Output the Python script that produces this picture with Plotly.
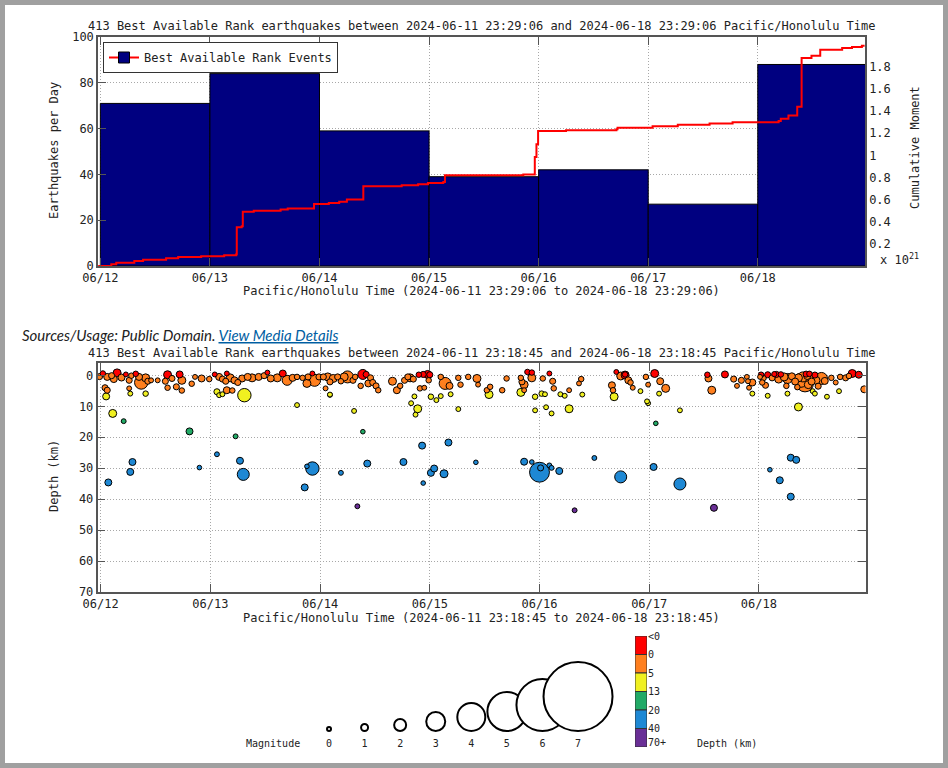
import numpy as np
import pandas as pd
import plotly.graph_objects as go

W, H = 948, 768

# ---- top panel: events per day + cumulative moment ----
BAR_DAYS = ["2024-06-12", "2024-06-13", "2024-06-14", "2024-06-15",
            "2024-06-16", "2024-06-17", "2024-06-18"]
BAR_COUNTS = [71, 84, 59, 39, 42, 27, 88]

# times as fractional day of June, moment in units of 10^21
MOMENT_DAY = [11.98, 12.10, 12.145, 12.31, 12.39, 12.60, 12.71, 12.92, 13.13, 13.24,
              13.245, 13.29, 13.30, 13.40, 13.645, 13.71, 13.95, 14.085, 14.18, 14.25,
              14.40, 14.75, 14.90, 14.99, 15.13, 15.145, 15.86, 15.965, 15.98, 15.995,
              16.25, 16.71, 16.72, 17.04, 17.27, 17.56, 17.77, 18.19, 18.21, 18.28,
              18.36, 18.40, 18.49, 18.57, 18.77, 18.86, 18.95, 18.975]
MOMENT_E21 = [0.0, 0.015, 0.03, 0.045, 0.057, 0.07, 0.082, 0.088, 0.097, 0.106,
              0.35, 0.36, 0.49, 0.50, 0.51, 0.52, 0.56, 0.57, 0.58, 0.60,
              0.72, 0.73, 0.74, 0.75, 0.76, 0.82, 0.827, 0.985, 1.10, 1.22,
              1.227, 1.235, 1.25, 1.264, 1.276, 1.288, 1.30, 1.31, 1.33, 1.36,
              1.44, 1.88, 1.90, 1.955, 1.97, 1.98, 1.99, 1.99]

# ---- bottom panel: individual events (day of June, depth km, magnitude) ----
EQ_DAY = [
    11.99, 12.02, 12.06, 12.10, 12.15, 12.12, 12.19, 12.23, 12.26, 12.28,
    12.32, 12.35, 12.37, 12.41, 12.43, 12.46, 12.52, 12.61, 12.59, 12.65,
    12.72, 12.74, 12.69, 12.61, 12.74, 12.83, 12.86, 12.92, 12.99, 13.04,
    13.08, 13.11, 13.15, 13.14, 13.18, 13.22, 13.25, 13.29, 13.34, 13.38,
    13.44, 13.49, 13.52, 13.55, 13.61, 13.66, 13.70, 13.75, 12.04, 12.06,
    12.05, 12.26, 12.27, 12.41, 13.06, 13.08, 13.11, 13.15, 13.20, 13.31,
    12.11, 12.21, 12.81,
    12.07, 12.29, 12.27, 12.90, 13.06, 13.23, 13.27, 13.30, 13.79, 13.86,
    13.88, 13.93, 14.19, 14.31, 14.34, 14.39, 14.43, 14.76, 14.93, 14.94,
    15.01, 15.04, 15.13, 15.17, 15.42, 14.89, 14.87, 14.83, 14.86, 15.26,
    14.09,
    15.86, 15.93, 16.00, 16.01, 16.09, 16.11, 16.18, 16.32, 16.50, 16.74,
    17.04, 17.06, 17.28, 17.28, 17.59, 18.10, 18.19, 18.29, 18.34, 18.29,
    18.36, 16.99, 16.98, 15.96, 16.06, 16.11, 16.27,
    13.79, 13.84, 13.88, 13.89, 13.93, 13.95, 13.99, 14.03, 14.07, 14.09,
    14.12, 14.16, 14.19, 14.22, 14.25, 14.30, 14.32, 14.39, 14.42, 14.46,
    14.44, 14.37, 14.48, 14.51, 14.53, 14.66, 14.73, 14.70, 14.77, 14.80,
    14.82, 14.85, 14.90, 14.94, 14.98, 15.00, 14.99, 14.91, 14.95, 15.10,
    15.14, 15.18, 15.26, 15.28, 15.35, 15.43, 15.44, 15.52, 15.54, 14.09,
    14.05, 15.01, 15.06, 15.10, 15.19,
    15.55, 15.66, 15.70, 15.83, 15.84, 15.86, 15.89, 15.93, 15.93, 15.83,
    15.86, 15.96, 16.03, 16.09, 16.12, 16.13, 16.02, 16.05, 16.19, 16.23,
    16.27, 16.36, 16.38, 16.39, 16.66, 16.67, 16.68, 16.70, 16.74, 16.78,
    16.78, 16.81, 16.83, 16.85, 16.92, 16.97, 16.99, 17.05, 17.10, 17.15,
    17.09,
    17.53, 17.54, 17.57, 17.69, 17.77, 17.80, 17.84, 17.89, 17.90, 17.94,
    17.91, 17.94, 18.01, 18.03, 18.02, 18.04, 18.06, 18.08, 18.12, 18.16,
    18.18, 18.23, 18.26, 18.38, 18.42, 18.47, 18.51, 18.52, 18.57, 18.25,
    18.26, 18.49, 18.51, 18.08, 18.62, 18.66, 18.70, 18.73, 18.74, 18.79,
    18.82, 18.85, 18.91, 18.96, 18.30, 18.33, 18.36, 18.40, 18.45, 18.48,
    18.54, 18.44, 18.60, 18.35, 18.43, 18.46, 18.20, 18.14,
]
EQ_DEPTH = [
    0.4, -0.6, 0.5, 0.1, -0.8, 1.2, 0.7, -0.3, 1.6, 0.1,
    -0.5, 0.5, 2.3, 0.8, 1.9, 1.6, 1.6, -0.2, 1.9, 1.0,
    -0.3, 1.6, 3.7, 4.0, 4.9, 2.7, 0.5, 1.0, 1.2, -0.3,
    0.5, 1.2, -0.6, 1.9, 0.8, 1.6, 2.3, 1.0, 0.5, 0.8,
    0.5, 0.1, -0.9, 1.0, 0.8, -0.6, 1.6, 0.8, 4.0, 4.8,
    6.8, 4.2, 5.9, 5.9, 5.3, 6.4, 6.1, 4.8, 4.9, 6.4,
    12.3, 14.8, 18.1,
    34.6, 28.0, 31.2, 29.8, 25.5, 19.7, 27.6, 32.0, 9.6, 36.2,
    29.4, 30.1, 31.5, 11.5, 42.3, 18.2, 28.5, 28.0, 22.7, 34.8,
    31.5, 30.1, 31.8, 21.7, 28.1, 10.8, 12.7, 9.0, 6.8, 10.9,
    6.3,
    27.9, 28.0, 31.3, 29.9, 29.1, 29.9, 30.9, 43.6, 26.7, 32.8,
    29.6, 15.5, 35.1, 11.3, 42.8, 30.5, 33.9, 26.6, 27.3, 39.2,
    10.2, 9.0, 8.4, 11.3, 10.3, 12.3, 10.8,
    0.5, 0.8, 2.6, 0.5, -0.6, 1.6, 0.5, 0.5, 0.5, 2.1,
    1.0, 0.5, 1.9, 0.5, 0.5, 1.6, 0.5, -0.3, -0.3, 0.8,
    2.6, 3.4, 2.3, 3.4, 4.8, 1.9, 3.4, 4.8, 1.6, 0.5,
    0.8, 1.2, -0.2, -0.3, -0.3, -0.2, 1.6, 4.2, 4.0, 0.5,
    2.6, 3.4, 0.8, 3.0, 0.5, 1.0, 3.0, 4.8, 6.2, 6.2,
    4.2, 6.9, 8.0, 6.7, 6.1,
    3.7, 4.8, 1.0, 0.8, 2.1, 3.0, -1.1, -0.9, 0.8, 5.5,
    4.8, 6.9, 1.0, -0.6, 1.9, 4.2, 5.9, 6.1, 6.1, 6.6,
    4.8, 2.6, 1.2, 6.2, 3.2, 4.8, 6.9, -1.1, 0.2, -0.1,
    -0.3, 1.6, 2.3, 4.0, 5.1, 0.5, 3.0, -0.6, 1.9, 4.2,
    5.9,
    -0.2, 1.0, 4.8, -0.3, 1.2, 3.4, 1.6, 0.5, 1.9, 2.3,
    4.0, 5.9, 0.5, 2.3, -0.2, 0.8, 3.2, -0.2, 0.8, -0.3,
    1.2, 0.5, 1.0, 1.6, 2.6, 1.2, -0.1, 1.6, 1.0, 3.4,
    5.9, 5.1, 5.9, 6.6, 6.9, 0.8, 2.3, 5.1, 0.5, 0.8,
    0.2, -0.6, -0.2, 4.5, 0.3, 2.0, 0.8, 0.5, 3.0, 2.0,
    3.5, 0.2, 1.8, 3.8, -0.4, -0.5, -0.3, -0.4,
]
EQ_MAG = [
    0.7, 0.5, 1.0, 0.7, 1.2, 1.0, 1.0, 0.3, 0.7, 0.5,
    0.5, 1.0, 2.2, 1.2, 0.7, 0.3, 0.3, 1.2, 0.7, 0.7,
    1.0, 1.2, 0.7, 0.5, 0.5, 0.5, 0.3, 1.0, 0.5, 0.3,
    1.0, 0.7, 0.3, 0.7, 1.2, 1.0, 0.7, 1.0, 1.0, 1.2,
    1.0, 0.7, 0.3, 1.0, 1.2, 1.0, 1.6, 1.0, 0.7, 0.7,
    1.0, 0.3, 0.3, 0.5, 0.7, 0.3, 0.3, 1.0, 0.5, 2.2,
    1.2, 0.3, 1.0,
    1.0, 1.0, 1.0, 0.2, 0.3, 0.3, 1.0, 2.0, 0.3, 1.0,
    0.2, 2.2, 0.3, 0.3, 0.3, 0.2, 1.0, 1.0, 1.0, 0.2,
    1.0, 1.0, 1.2, 1.0, 0.2, 1.2, 0.3, 0.3, 0.3, 0.3,
    0.3,
    1.0, 0.2, 3.1, 0.7, 0.3, 0.3, 1.0, 0.3, 0.3, 2.0,
    1.0, 0.2, 2.0, 0.3, 1.0, 0.2, 1.0, 1.0, 1.0, 1.0,
    1.2, 0.3, 0.3, 0.3, 0.3, 0.3, 1.2,
    0.5, 0.5, 1.2, 0.7, 0.3, 2.0, 0.7, 0.7, 1.2, 0.7,
    1.2, 0.7, 0.5, 1.2, 2.0, 0.7, 0.5, 1.6, 0.7, 0.7,
    1.0, 0.5, 0.7, 0.7, 0.5, 1.2, 0.5, 1.0, 0.7, 0.7,
    1.2, 0.7, 0.5, 0.7, 1.2, 0.7, 0.5, 0.5, 0.3, 0.5,
    2.0, 1.0, 0.5, 0.5, 0.5, 1.2, 0.3, 0.5, 1.2, 0.3,
    0.3, 0.5, 0.3, 0.3, 0.3,
    0.5, 0.5, 0.5, 0.5, 0.7, 1.2, 0.5, 0.5, 1.2, 1.2,
    0.3, 0.5, 0.5, 0.3, 0.7, 0.5, 0.5, 0.3, 0.3, 0.3,
    0.3, 0.3, 0.5, 0.3, 1.0, 0.5, 1.2, 0.3, 1.2, 1.2,
    0.5, 1.0, 0.5, 0.3, 0.3, 0.5, 0.3, 1.2, 1.0, 1.2,
    0.3,
    0.5, 1.0, 1.2, 1.0, 0.7, 0.3, 0.7, 0.3, 0.3, 1.0,
    0.3, 0.3, 0.3, 0.5, 0.5, 0.7, 0.7, 0.7, 0.7, 0.7,
    1.2, 1.2, 1.6, 2.3, 2.7, 1.6, 0.7, 1.2, 2.0, 0.5,
    0.3, 0.3, 0.3, 0.3, 0.3, 0.5, 0.3, 0.3, 0.5, 0.7,
    0.5, 1.2, 1.0, 1.0, 1.0, 1.0, 1.2, 1.6, 1.2, 1.0,
    0.7, 1.0, 1.0, 0.5, 0.7, 0.5, 0.5, 0.4,
]
assert len(EQ_DAY) == len(EQ_DEPTH) == len(EQ_MAG)

MAG_LEVELS = [0, 1, 2, 3, 4, 5, 6, 7]
DEPTH_EDGES = [0, 5, 13, 20, 40]
DEPTH_LABELS = ["<0", "0", "5", "13", "20", "40", "70+"]

# styles
DEPTH_COLORS = ["#ff0000", "#ff7f1e", "#f0f020", "#22aa66", "#1e88d4", "#6a2f96"]
MAG_SIZES = [4, 7, 12, 19, 28, 39, 52, 69]
MONO = "DejaVu Sans Mono"
INK = "#222222"
FRAME = "#555555"
GRID = "#a8a8a8"


def june(days):
    return pd.Timestamp("2024-06-01") + pd.to_timedelta(np.asarray(days) - 1, unit="D")


def px(x):
    return x / W


def py(y):
    return 1 - y / H


fig = go.Figure()

bar_x = pd.to_datetime(BAR_DAYS) + pd.Timedelta(hours=12)
fig.add_trace(go.Bar(x=bar_x, y=BAR_COUNTS, width=86400000, xaxis="x", yaxis="y",
                     marker=dict(color="#000080", line=dict(color="black", width=1)),
                     showlegend=False, hoverinfo="skip"))
fig.add_trace(go.Scatter(x=june(MOMENT_DAY), y=MOMENT_E21, mode="lines", xaxis="x", yaxis="y2",
                         line=dict(color="#ff0000", width=2, shape="hv"), showlegend=False))
fig.add_trace(go.Scatter(x=[None], y=[None], mode="lines+markers", xaxis="x", yaxis="y",
                         name="Best Available Rank Events",
                         line=dict(color="#ff0000", width=2),
                         marker=dict(symbol="square", size=11, color="#000080",
                                     line=dict(color="black", width=1))))

day = np.array(EQ_DAY)
depth = np.array(EQ_DEPTH)
mag = np.array(EQ_MAG)
order = np.argsort(-mag, kind="stable")
colors = np.array(DEPTH_COLORS)[np.digitize(depth, DEPTH_EDGES)]
sizes = np.interp(mag, MAG_LEVELS, MAG_SIZES)
fig.add_trace(go.Scatter(x=june(day[order]), y=depth[order], mode="markers", xaxis="x2", yaxis="y3",
                         marker=dict(size=sizes[order], color=colors[order], opacity=1,
                                     line=dict(color="black", width=1)),
                         showlegend=False))

# magnitude legend (y axis in pixel units, circles sit on a common baseline)
base = 5
fig.add_trace(go.Scatter(x=MAG_LEVELS, y=[base + s / 2 for s in MAG_SIZES], mode="markers",
                         xaxis="x3", yaxis="y4", showlegend=False,
                         marker=dict(size=MAG_SIZES, color="white", opacity=1,
                                     line=dict(color="black", width=2))))

# depth colour key
fig.add_trace(go.Bar(x=[0] * 6, y=[1] * 6, base=[5, 4, 3, 2, 1, 0], width=1,
                     xaxis="x4", yaxis="y5", showlegend=False,
                     marker=dict(color=DEPTH_COLORS, line=dict(color="#333333", width=1))))

tick_font = dict(family=MONO, size=12, color=INK)
frame = dict(showline=True, linecolor=FRAME, linewidth=1.5, ticks="inside", ticklen=8,
             tickcolor=FRAME, zeroline=False, tickfont=tick_font, automargin=False)
grid = dict(showgrid=True, gridcolor=GRID, griddash="1px,2px", gridwidth=1)

fig.update_layout(
    width=W, height=H, autosize=False,
    margin=dict(l=0, r=0, t=0, b=0, pad=0, autoexpand=False),
    paper_bgcolor="white", plot_bgcolor="white",
    barmode="overlay",
    xaxis=dict(domain=[px(98), px(865)], anchor="y", type="date",
               range=["2024-06-11 23:29:06", "2024-06-18 23:29:06"],
               tick0="2024-06-12", dtick=86400000, tickformat="%m/%d",
               mirror="ticks", **frame, **grid),
    yaxis=dict(domain=[py(266), py(37)], anchor="x", range=[0, 100], dtick=20,
               **frame, **grid),
    yaxis2=dict(overlaying="y", side="right", anchor="x", range=[0, 2.07],
                tickvals=[0.2, 0.4, 0.6, 0.8, 1.0, 1.2, 1.4, 1.6, 1.8],
                showline=True, linecolor=FRAME, linewidth=1.5, ticks="",
                showgrid=False, zeroline=False, tickfont=tick_font, automargin=False),
    xaxis2=dict(domain=[px(97.5), px(865.5)], anchor="y3", type="date",
                range=["2024-06-11 23:18:45", "2024-06-18 23:18:45"],
                tick0="2024-06-12", dtick=86400000, tickformat="%m/%d",
                mirror="ticks", **frame, **grid),
    yaxis3=dict(domain=[py(592), py(363.3)], anchor="x2", range=[70, -3.9],
                tickvals=[0, 10, 20, 30, 40, 50, 60, 70], mirror="ticks",
                **frame, **grid),
    xaxis3=dict(domain=[px(240), px(620)], anchor="y4", range=[-2.502, 8.18],
                tickvals=MAG_LEVELS, showgrid=False, zeroline=False, showline=False,
                ticks="", automargin=False, tickfont=dict(family=MONO, size=10, color=INK)),
    yaxis4=dict(domain=[py(736), py(640)], anchor="x3", range=[0, 96], visible=False),
    xaxis4=dict(domain=[px(635), px(647)], anchor="y5", range=[-0.5, 0.5], visible=False),
    yaxis5=dict(domain=[py(747), py(636)], anchor="x4", range=[0, 6], side="right",
                tickvals=[6, 5, 4, 3, 2, 1, 0.25], ticktext=DEPTH_LABELS,
                showgrid=False, zeroline=False, showline=False, ticks="", automargin=False,
                tickfont=dict(family=MONO, size=10, color=INK)),
    legend=dict(x=px(103), y=py(42), xanchor="left", yanchor="top",
                bgcolor="white", bordercolor="#333333", borderwidth=1,
                font=dict(family=MONO, size=12, color=INK), itemwidth=30),
    shapes=[dict(type="rect", xref="paper", yref="paper", x0=0, x1=1, y0=0, y1=1,
                 line=dict(color="#a0a0a0", width=10), layer="above")],
)


def note(text, x, y, size=12, angle=0, xanchor="center", family=MONO):
    fig.add_annotation(text=text, x=px(x), y=py(y), xref="paper", yref="paper",
                       showarrow=False, xanchor=xanchor, yanchor="middle", textangle=angle,
                       font=dict(family=family, size=size, color=INK))


note("413 Best Available Rank earthquakes between 2024-06-11 23:29:06 and "
     "2024-06-18 23:29:06 Pacific/Honolulu Time", 481.7, 26)
note("Pacific/Honolulu Time (2024-06-11 23:29:06 to 2024-06-18 23:29:06)", 481.5, 291)
note("Earthquakes per Day", 54, 151, angle=-90)
note("Cumulative Moment", 915, 148, angle=-90)
note("x 10<sup>21</sup>", 899, 259)
note("<i>Sources/Usage: Public Domain. <span style='color:#005ea2;text-decoration:underline'>"
     "View Media Details</span></i>", 20, 335, size=15, xanchor="left", family="Lato")
note("413 Best Available Rank earthquakes between 2024-06-11 23:18:45 and "
     "2024-06-18 23:18:45 Pacific/Honolulu Time", 481.5, 353)
note("Pacific/Honolulu Time (2024-06-11 23:18:45 to 2024-06-18 23:18:45)", 481.5, 618)
note("Depth (km)", 54, 476, angle=-90)
note("Magnitude", 273, 743, size=10)
note("Depth (km)", 727, 743, size=10)

fig.write_html("out.html", config={"displayModeBar": False},
               post_script="document.body.style.margin='0';document.body.style.overflow='hidden';")
